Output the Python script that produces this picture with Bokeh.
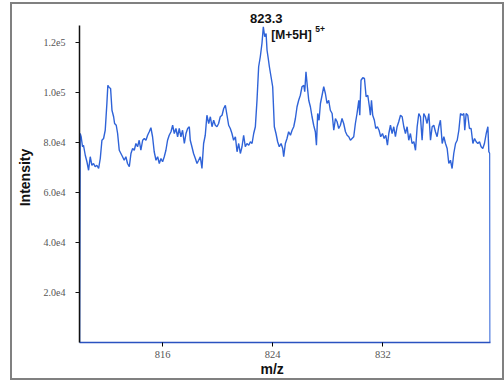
from bokeh.plotting import figure
from bokeh.models import FixedTicker, Range1d, Title
from bokeh.embed import file_html
from bokeh.resources import INLINE
from bokeh.core.properties import value

# ---- data ----
mz = [809.97, 810.01, 810.08, 810.18, 810.25, 810.38, 810.50, 810.62, 810.74, 810.86,
      810.98, 811.10, 811.22, 811.35, 811.47, 811.59, 811.71, 811.83, 811.95, 812.02,
      812.12, 812.22, 812.32, 812.44, 812.51, 812.63, 812.73, 812.85, 812.97, 813.09,
      813.21, 813.33, 813.45, 813.58, 813.70, 813.82, 813.94, 814.06, 814.18, 814.30,
      814.42, 814.55, 814.67, 814.79, 814.91, 815.03, 815.15, 815.27, 815.39, 815.52,
      815.64, 815.76, 815.88, 816.00, 816.12, 816.24, 816.36, 816.48, 816.61, 816.73,
      816.85, 816.97, 817.09, 817.21, 817.33, 817.45, 817.58, 817.70, 817.82, 817.94,
      818.01, 818.13, 818.25, 818.38, 818.50, 818.62, 818.74, 818.86, 818.98, 819.10,
      819.22, 819.35, 819.47, 819.59, 819.71, 819.83, 819.95, 820.07, 820.19, 820.32,
      820.44, 820.56, 820.68, 820.80, 820.92, 821.04, 821.16, 821.29, 821.41, 821.53,
      821.65, 821.77, 821.89, 822.01, 822.13, 822.26, 822.38, 822.50, 822.62, 822.74,
      822.86, 822.98, 823.10, 823.22, 823.32, 823.42, 823.52, 823.59, 823.66, 823.76,
      823.88, 824.00, 824.12, 824.24, 824.36, 824.48, 824.61, 824.73, 824.80, 824.92,
      825.04, 825.16, 825.29, 825.41, 825.53, 825.65, 825.77, 825.89, 826.01, 826.13,
      826.26, 826.33, 826.42, 826.52, 826.62, 826.74, 826.86, 826.98, 827.10, 827.18,
      827.27, 827.37, 827.47, 827.59, 827.71, 827.83, 827.95, 828.07, 828.19, 828.32,
      828.44, 828.56, 828.68, 828.80, 828.92, 829.04, 829.16, 829.29, 829.41, 829.53,
      829.65, 829.77, 829.89, 830.01, 830.13, 830.26, 830.33, 830.42, 830.55, 830.67,
      830.79, 830.91, 831.03, 831.10, 831.18, 831.27, 831.39, 831.49, 831.61, 831.73,
      831.85, 831.98, 832.10, 832.22, 832.34, 832.44, 832.56, 832.68, 832.80, 832.92,
      833.04, 833.16, 833.29, 833.41, 833.53, 833.65, 833.77, 833.89, 834.01, 834.13,
      834.26, 834.38, 834.50, 834.62, 834.74, 834.86, 834.98, 835.10, 835.22, 835.35,
      835.47, 835.59, 835.71, 835.83, 835.95, 836.07, 836.19, 836.32, 836.44, 836.56,
      836.68, 836.80, 836.92, 837.04, 837.16, 837.29, 837.41, 837.53, 837.65, 837.77,
      837.89, 837.96, 838.06, 838.18, 838.30, 838.42, 838.55, 838.67, 838.79, 838.91,
      839.03, 839.15, 839.27, 839.39, 839.52, 839.64, 839.71, 839.78, 839.80]

intensity = [0, 83600, 82300, 78300, 78900, 74900, 72300, 68900, 74300, 70900,
             71600, 70300, 70900, 69600, 73600, 80900, 81600, 84900, 95600, 102900,
             102000, 101600, 92900, 90300, 87600, 86900, 83600, 76900, 75600, 74300,
             72900, 74300, 71600, 70300, 75600, 77600, 76900, 79600, 78300, 80900,
             76900, 80900, 81600, 80900, 82900, 84300, 85900, 82300, 76300, 72900,
             74300, 71600, 73600, 72300, 74300, 76900, 80900, 82900, 84300, 86900,
             83600, 85600, 82300, 85600, 82300, 84900, 79600, 83600, 85600, 86300,
             80900, 78300, 75600, 73600, 71600, 72900, 74300, 69600, 79600, 82900,
             90900, 87600, 90300, 86300, 88900, 86900, 86300, 87600, 90300, 90900,
             93600, 94900, 90900, 86900, 85600, 83600, 80900, 82300, 76300, 79600,
             75600, 78300, 82900, 78300, 79600, 78900, 80300, 79600, 83600, 86300,
             96900, 110300, 114300, 119600, 126300, 122300, 123600, 116900, 114300, 110300,
             106300, 102300, 86300, 83600, 80300, 78300, 79600, 77600, 74300, 79600,
             81600, 84300, 82900, 84900, 86300, 89600, 94300, 96900, 98900, 102300,
             102900, 100300, 108300, 102300, 96900, 94300, 90300, 86900, 84300, 78900,
             91600, 88900, 95600, 98900, 102300, 99600, 95600, 96900, 92900, 91600,
             84900, 89600, 88300, 85600, 86900, 89600, 87600, 84300, 82900, 82300,
             80900, 81600, 82300, 87600, 91600, 96900, 90900, 104900, 105900, 105600,
             98300, 98900, 94300, 90900, 96900, 90900, 88900, 85600, 86300, 84900,
             82300, 83600, 81600, 82900, 78900, 83600, 86900, 83600, 86300, 82300,
             86300, 88300, 90900, 90300, 86300, 83600, 86300, 80900, 83600, 79600,
             80300, 76900, 86300, 91600, 90300, 80900, 91600, 90300, 87600, 91600,
             80900, 86300, 86900, 84300, 82300, 86300, 88900, 79600, 82300, 79600,
             77600, 71600, 72900, 69600, 75600, 79600, 80900, 84900, 91600, 90900,
             91600, 84900, 91600, 90900, 85600, 85600, 79600, 81600, 80300, 79600,
             80300, 78300, 77600, 79600, 83600, 86300, 76300, 75600, 0]

x_ticks = [816, 824, 832, 840]
x_tick_labels = {816: "816", 824: "824", 832: "832", 840: ""}
y_ticks = [20000, 40000, 60000, 80000, 100000, 120000]
y_tick_labels = {20000: "2.0e4", 40000: "4.0e4", 60000: "6.0e4",
                 80000: "8.0e4", 100000: "1.0e5", 120000: "1.2e5"}

peak_mz = [823.32]
peak_int = [126300]
peak_label = ["823.3"]
ion_label = ["[M+5H]"]
charge_label = ["5+"]

# ---- figure ----
p = figure(frame_width=411, frame_height=330,
           min_border_left=67, min_border_right=12,
           min_border_top=8, min_border_bottom=34,
           x_range=Range1d(809.96, 839.83), y_range=Range1d(0, 132000),
           output_backend="svg", toolbar_location=None,
           background_fill_color="white", border_fill_color="white")
p.styles = {"border": "2px solid #808080", "margin": "2px 0px 0px 10px"}
p.outline_line_color = None
p.xgrid.visible = False
p.ygrid.visible = False

blue = "#2f63d8"
p.line(mz, intensity, line_color=blue, line_width=1.4)

# x axis
xa = p.xaxis[0]
xa.ticker = FixedTicker(ticks=x_ticks)
xa.major_label_overrides = x_tick_labels
xa.minor_tick_line_color = None
xa.axis_line_color = "#2a52c0"
xa.axis_line_width = 1.5
xa.major_tick_line_color = "black"
xa.major_tick_out = 4
xa.major_tick_in = 0
xa.major_label_standoff = 4
xa.major_label_text_font = "Liberation Serif"
xa.major_label_text_font_size = "10.5px"
xa.major_label_text_color = "#555555"

# x-axis title, slightly left of centre as in the reference
p.add_layout(Title(text="m/z", align="left", offset=181, standoff=0,
                   vertical_align="top",
                   text_font="Liberation Sans", text_font_style="bold",
                   text_font_size="14px", text_color="#111111"), "below")

# y axis
ya = p.yaxis[0]
ya.ticker = FixedTicker(ticks=y_ticks)
ya.major_label_overrides = y_tick_labels
ya.bounds = (0, 127000)
ya.minor_tick_line_color = None
ya.axis_line_color = "#111111"
ya.axis_line_width = 1.5
ya.major_tick_line_color = "#111111"
ya.major_tick_out = 4
ya.major_tick_in = 0
ya.major_label_standoff = 10
ya.major_label_text_font = "Liberation Serif"
ya.major_label_text_font_size = "10px"
ya.major_label_text_color = "#555555"
ya.axis_label = "Intensity"
ya.axis_label_standoff = 8
ya.axis_label_text_font = "Liberation Sans"
ya.axis_label_text_font_style = "bold"
ya.axis_label_text_font_size = "14px"
ya.axis_label_text_color = "#111111"

# annotations
p.text(peak_mz, peak_int, text=peak_label, text_align="center", text_baseline="middle",
       x_offset=3, y_offset=-8, text_font=value("Liberation Sans"),
       text_font_style="bold", text_font_size="13px", text_color="#111111")
p.text(peak_mz, peak_int, text=ion_label, text_align="left", text_baseline="middle",
       x_offset=8, y_offset=8, text_font=value("Liberation Sans"),
       text_font_style="bold", text_font_size="12px", text_color="#111111")
p.text(peak_mz, peak_int, text=charge_label, text_align="left", text_baseline="middle",
       x_offset=52, y_offset=2, text_font=value("Liberation Sans"),
       text_font_style="bold", text_font_size="8.5px", text_color="#111111")

open("out.html", "w").write(file_html(p, INLINE))
